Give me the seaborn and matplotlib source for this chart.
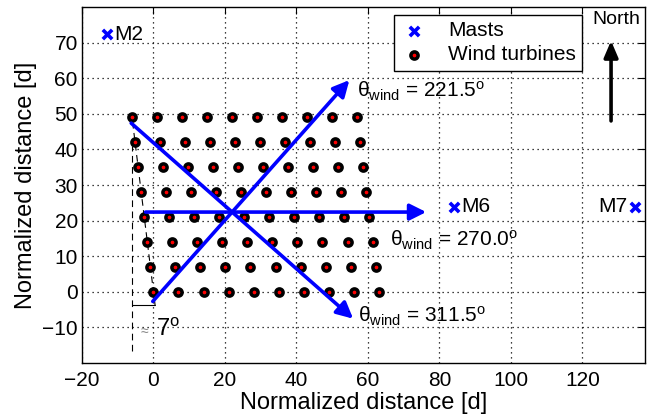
import numpy as np
import pandas as pd
import matplotlib
matplotlib.use("Agg")
import matplotlib.pyplot as plt
import seaborn as sns

# Wind farm layout: row heights and column positions of the bottom row [d]
row_y = [0, 7, 14, 21, 28, 35, 42, 49]
col_x = [0, 7, 14, 21, 28, 35, 42, 49, 56, 63]
row_skew_deg = 7.0

# Met masts
mast_names = ["M2", "M6", "M7"]
mast_x = [-13.1, 84.1, 134.8]
mast_y = [72.4, 23.9, 23.9]

# Wind directions shown as arrows [deg]
wind_dirs = [221.5, 270.0, 311.5]

x_ticks = [-20, 0, 20, 40, 60, 80, 100, 120]
y_ticks = [-10, 0, 10, 20, 30, 40, 50, 60, 70]

# ---------------------------------------------------------------------------
sns.set_theme(style="white")
plt.rcParams["font.family"] = ["Liberation Sans", "DejaVu Sans"]
plt.rcParams["mathtext.fontset"] = "custom"
plt.rcParams["mathtext.rm"] = "Liberation Sans"
plt.rcParams["mathtext.it"] = "Liberation Sans:italic"
plt.rcParams["axes.unicode_minus"] = True
for key in ("text.color", "axes.labelcolor", "xtick.color", "ytick.color",
            "xtick.labelcolor", "ytick.labelcolor"):
    plt.rcParams[key] = "black"

skew = np.tan(np.radians(row_skew_deg))
turbines = pd.DataFrame(
    [(x - y * skew, y) for y in row_y for x in col_x], columns=["x", "y"]
)
masts = pd.DataFrame({"name": mast_names, "x": mast_x, "y": mast_y})

fig = plt.figure(figsize=(6.48, 4.19), dpi=100)
ax = fig.add_axes([0.1265, 0.1336, 0.8689, 0.8497])

# construction lines for the row skew angle
ax.plot([-6.1, -6.1], [-16.5, 41.0], color="black", lw=0.8,
        dashes=(6, 4), zorder=2)
ax.plot([0.45, -6.0], [-3.7, 49.0], color="black", lw=0.8,
        dashes=(6, 4), zorder=2)
ax.plot([-6.1, 0.45], [-3.7, -3.7], color="black", lw=0.8, zorder=2)

sns.scatterplot(data=turbines, x="x", y="y", marker="o", s=27,
                color="red", edgecolor="black", linewidth=2.5,
                label="Wind turbines", ax=ax, zorder=4)
sns.scatterplot(data=masts, x="x", y="y", marker="x", s=45,
                color="blue", linewidth=2.6, label="Masts", ax=ax, zorder=5)

# wind direction arrows through the farm centre
centre = (22.0, 22.4)
arrow_back = [33.5, 24.2, 37.7]
arrow_fwd = [49.5, 54.3, 45.2]
label_pos = [(56.8, 54.6), (66.3, 12.7), (57.1, -8.5)]
for d, b, f, (tx, ty) in zip(wind_dirs, arrow_back, arrow_fwd, label_pos):
    th = np.radians(d)
    u = np.array([-np.sin(th), -np.cos(th)])
    start = np.array(centre) - b * u
    end = np.array(centre) + f * u
    ax.annotate("", xy=end, xytext=start,
                arrowprops=dict(arrowstyle="-|>,head_length=0.7,head_width=0.35",
                                color="blue", lw=2.6, shrinkA=0, shrinkB=0,
                                mutation_scale=14),
                zorder=6)
    ax.text(tx, ty, "θ$_{\\mathrm{wind}}$ = %.1f$^{\\mathrm{o}}$" % d,
            fontsize=15, ha="left", va="baseline", zorder=7)

# north arrow
ax.annotate("", xy=(128.0, 70.5), xytext=(128.0, 48.0),
            arrowprops=dict(arrowstyle="-|>,head_length=0.7,head_width=0.3",
                            color="black", lw=2.6, shrinkA=0, shrinkB=0,
                            mutation_scale=14), zorder=6)
ax.text(129.5, 76.6, "North", fontsize=14, ha="center", va="center")

# mast labels
for name, x, y in zip(mast_names, mast_x, mast_y):
    if name == "M7":
        ax.text(x - 2.2, y, name, fontsize=15, ha="right", va="center")
    else:
        ax.text(x + 2.0, y, name, fontsize=15, ha="left", va="center")

# skew angle annotation
ax.text(-2.6, -10.9, "≈", fontsize=10, color="0.5", ha="center", va="center")
ax.text(0.6, -10.7, "7$^{\\mathrm{o}}$", fontsize=17, ha="left", va="center")

ax.set_xlim(-20, 137.5)
ax.set_ylim(-20, 80)
ax.set_xticks(x_ticks)
ax.set_yticks(y_ticks)
ax.grid(True, color="black", linestyle=(0, (1, 3)), linewidth=0.9)
ax.set_axisbelow(True)
ax.tick_params(direction="in", top=True, right=True, length=5, width=0.8,
               labelsize=15, colors="black")
ax.tick_params(axis="x", pad=6)
ax.tick_params(axis="y", pad=3)
for sp in ax.spines.values():
    sp.set_color("black")
    sp.set_linewidth(1.0)

ax.set_xlabel("Normalized distance [d]", fontsize=17, labelpad=1)
ax.set_ylabel("Normalized distance [d]", fontsize=17, labelpad=4)

handles, labels = ax.get_legend_handles_labels()
hmap = dict(zip(labels, handles))
leg = ax.legend([hmap["Masts"], hmap["Wind turbines"]],
                ["Masts", "Wind turbines"], loc="upper right",
                bbox_to_anchor=(0.888, 0.9775), borderaxespad=0,
                fancybox=False, frameon=True, edgecolor="black",
                framealpha=1, fontsize=15, handlelength=1.4,
                handletextpad=0.9, borderpad=0.3, labelspacing=0.25)
leg.get_frame().set_linewidth(1.0)
leg.set_zorder(8)

fig.savefig("out.png", dpi=100)
